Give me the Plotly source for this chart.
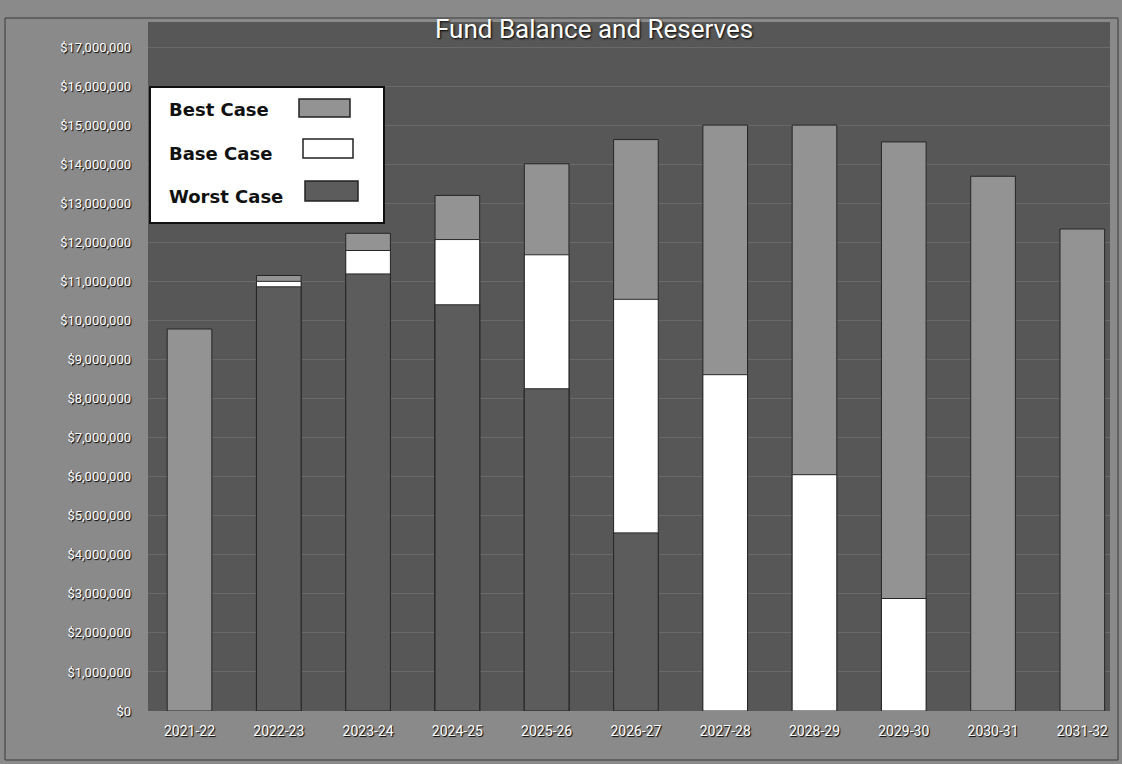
import plotly.graph_objects as go

categories = ["2021-22", "2022-23", "2023-24", "2024-25", "2025-26", "2026-27",
              "2027-28", "2028-29", "2029-30", "2030-31", "2031-32"]
best_case = [9_780_000, 11_150_000, 12_230_000, 13_200_000, 14_010_000, 14_630_000,
             15_000_000, 15_000_000, 14_570_000, 13_690_000, 12_340_000]
base_case = [None, 11_000_000, 11_790_000, 12_070_000, 11_680_000, 10_540_000,
             8_610_000, 6_050_000, 2_880_000, None, None]
worst_case = [None, 10_860_000, 11_190_000, 10_400_000, 8_250_000, 4_560_000,
              None, None, None, None, None]
y_ticks = list(range(0, 17_000_001, 1_000_000))
legend_names = ["Best Case", "Base Case", "Worst Case"]

W, H = 1122, 764
L, R, T, B = 148, 12, 22, 53
PW, PH = W - L - R, H - T - B

def px(x):
    return (x - L) / PW

def py(y):
    return (H - B - y) / PH

BEST_C, BASE_C, WORST_C = "#939393", "#ffffff", "#5c5c5c"
EDGE = "#262626"
NARROW = "Liberation Sans Narrow, Arial Narrow, Roboto, sans-serif"

fig = go.Figure()
for name, vals, col in [("Best Case", best_case, BEST_C),
                        ("Base Case", base_case, BASE_C),
                        ("Worst Case", worst_case, WORST_C)]:
    fig.add_trace(go.Bar(x=categories, y=vals, name=name, width=0.5,
                         marker=dict(color=col, line=dict(color=EDGE, width=1)),
                         showlegend=False))

shapes = []
annotations = []
# outer frame
shapes.append(dict(type="rect", xref="paper", yref="paper",
                   x0=px(5), x1=px(1118), y0=py(760), y1=py(18),
                   line=dict(color="#3a3a3a", width=1), fillcolor="rgba(0,0,0,0)", layer="below"))
# custom legend box
shapes.append(dict(type="rect", xref="paper", yref="paper",
                   x0=px(150), x1=px(384), y0=py(223), y1=py(87),
                   line=dict(color="#111111", width=2), fillcolor="white", layer="above"))
sw = [(299, 350, 99, 117, BEST_C), (303, 353, 139, 158, BASE_C), (305, 358, 181, 201, WORST_C)]
for (x0, x1, y0, y1, c) in sw:
    shapes.append(dict(type="rect", xref="paper", yref="paper",
                       x0=px(x0), x1=px(x1), y0=py(y1), y1=py(y0),
                       line=dict(color="#222222", width=1.5), fillcolor=c, layer="above"))
for name, ypix in zip(legend_names, [110, 153, 196]):
    annotations.append(dict(text="<b>" + name + "</b>", xref="paper", yref="paper",
                            x=px(167), y=py(ypix), xanchor="left", yanchor="middle",
                            showarrow=False,
                            font=dict(family="DejaVu Sans, sans-serif", size=18, color="#111111")))
# title
annotations.append(dict(text="Fund Balance and Reserves", xref="paper", yref="paper",
                        x=px(594), y=py(29), xanchor="center", yanchor="middle", showarrow=False,
                        font=dict(family=NARROW, size=26, color="white",
                                  shadow="1px 1px 2px #000000")))

fig.update_layout(
    width=W, height=H,
    margin=dict(l=L, r=R, t=T, b=B),
    paper_bgcolor="#8a8a8a",
    plot_bgcolor="#575757",
    barmode="overlay",
    shapes=shapes,
    annotations=annotations,
    xaxis=dict(range=[-0.465, 10.31], showgrid=False, zeroline=False, showline=False,
               tickfont=dict(family=NARROW, size=14, color="white", shadow="1px 1px 1px #000000"),
               ticks="", ticklabelstandoff=10),
    yaxis=dict(range=[0, 17_640_000], tickvals=y_ticks, tickformat="$,.0f",
               showgrid=True, gridcolor="#6a6a6a", gridwidth=1, zeroline=False, showline=False,
               tickfont=dict(family=NARROW, size=13, color="white", shadow="1px 1px 1px #000000"),
               ticks="", ticklabelstandoff=16),
    bargap=0.5,
)

fig.write_html("out.html")
